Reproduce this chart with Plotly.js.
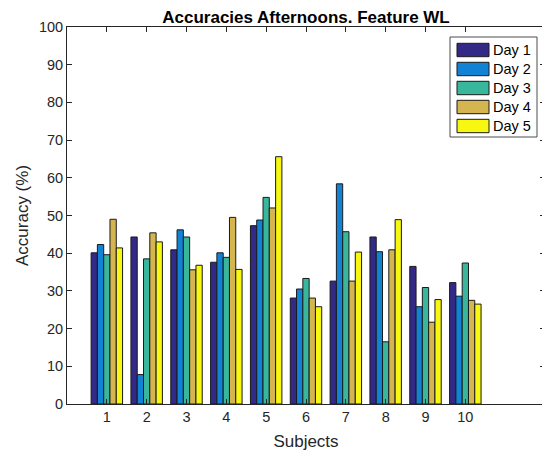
<!DOCTYPE html>
<html>
<head>
<meta charset="utf-8">
<script src="https://cdn.plot.ly/plotly-3.0.1.min.js"></script>
<style>
html,body{margin:0;padding:0;overflow:hidden;background:#fff;width:542px;height:456px;}
#chart{width:550px;height:456px;}
</style>
</head>
<body>
<div id="chart"></div>
<script>
const subjects = [1, 2, 3, 4, 5, 6, 7, 8, 9, 10];
const seriesNames = ["Day 1", "Day 2", "Day 3", "Day 4", "Day 5"];
const day1 = [40.1, 44.3, 40.9, 37.6, 47.3, 28.1, 32.6, 44.3, 36.5, 32.2];
const day2 = [42.3, 7.8, 46.2, 40.1, 48.8, 30.5, 58.4, 40.4, 25.8, 28.6];
const day3 = [39.6, 38.5, 44.3, 38.9, 54.8, 33.3, 45.7, 16.5, 30.9, 37.4];
const day4 = [49.0, 45.4, 35.6, 49.5, 52.0, 28.1, 32.6, 40.9, 21.7, 27.5];
const day5 = [41.4, 43.0, 36.8, 35.7, 65.6, 25.8, 40.3, 48.9, 27.7, 26.5];
const yTicks = [0, 10, 20, 30, 40, 50, 60, 70, 80, 90, 100];

const colors = ["#332a87", "#1283d4", "#39b79c", "#d5b550", "#f7f712"];
const allSeries = [day1, day2, day3, day4, day5];

const traces = allSeries.map((vals, i) => ({
  type: "bar",
  name: seriesNames[i],
  x: subjects,
  y: vals,
  showlegend: false,
  marker: {color: colors[i], line: {color: "#1a1a1a", width: 1}}
}));

const font = "'Liberation Sans', Arial, sans-serif";
const W = 550, H = 456;
const M = {l: 67, r: 5, t: 27, b: 52};
const plotW = W - M.l - M.r;
const plotH = H - M.t - M.b;
const px = v => (v - M.l) / plotW;
const py = v => 1 - (v - M.t) / plotH;

// Legend drawn as a boxed key (MATLAB style wide swatches)
const shapes = [{
  type: "rect", xref: "paper", yref: "paper",
  x0: px(450), x1: px(537), y0: py(37), y1: py(137),
  fillcolor: "#ffffff", line: {color: "#4d4d4d", width: 1}, layer: "above"
}];
const annotations = [];
seriesNames.forEach((name, i) => {
  const cy = 50 + 19 * i;
  shapes.push({
    type: "rect", xref: "paper", yref: "paper",
    x0: px(457), x1: px(489), y0: py(cy + 6.7), y1: py(cy - 6.7),
    fillcolor: colors[i], line: {color: "#1a1a1a", width: 1}, layer: "above"
  });
  annotations.push({
    xref: "paper", yref: "paper", x: px(491), y: py(cy),
    xanchor: "left", yanchor: "middle", showarrow: false,
    text: name, font: {family: font, size: 14.5, color: "#000000"}
  });
});

const layout = {
  width: W,
  height: H,
  margin: M,
  paper_bgcolor: "#ffffff",
  plot_bgcolor: "#ffffff",
  barmode: "group",
  bargap: 0.21,
  bargroupgap: 0,
  showlegend: false,
  font: {family: font, color: "#262626", size: 14.5},
  title: {
    text: "<b>Accuracies Afternoons. Feature WL</b>",
    font: {family: font, size: 17, color: "#000000"},
    x: 0.5, xref: "paper", xanchor: "center",
    y: 1 - 17.5 / H, yref: "container", yanchor: "middle"
  },
  xaxis: {
    range: [0, 12],
    tickvals: subjects,
    ticktext: subjects.map(String),
    ticks: "inside",
    ticklen: 5,
    tickcolor: "#262626",
    showline: true,
    linecolor: "#262626",
    linewidth: 1,
    mirror: "ticks",
    showgrid: false,
    zeroline: false,
    tickfont: {size: 14.5, color: "#262626"},
    title: {text: "Subjects", font: {size: 17, color: "#262626"}, standoff: 10}
  },
  yaxis: {
    range: [0, 100],
    tickvals: yTicks,
    ticks: "inside",
    ticklen: 5,
    tickcolor: "#262626",
    showline: true,
    linecolor: "#262626",
    linewidth: 1,
    mirror: "ticks",
    showgrid: false,
    zeroline: false,
    tickfont: {size: 14.5, color: "#262626"},
    title: {text: "Accuracy (%)", font: {size: 17, color: "#262626"}, standoff: 5}
  },
  shapes: shapes,
  annotations: annotations
};

Plotly.newPlot("chart", traces, layout, {displayModeBar: false, staticPlot: true});
</script>
</body>
</html>
